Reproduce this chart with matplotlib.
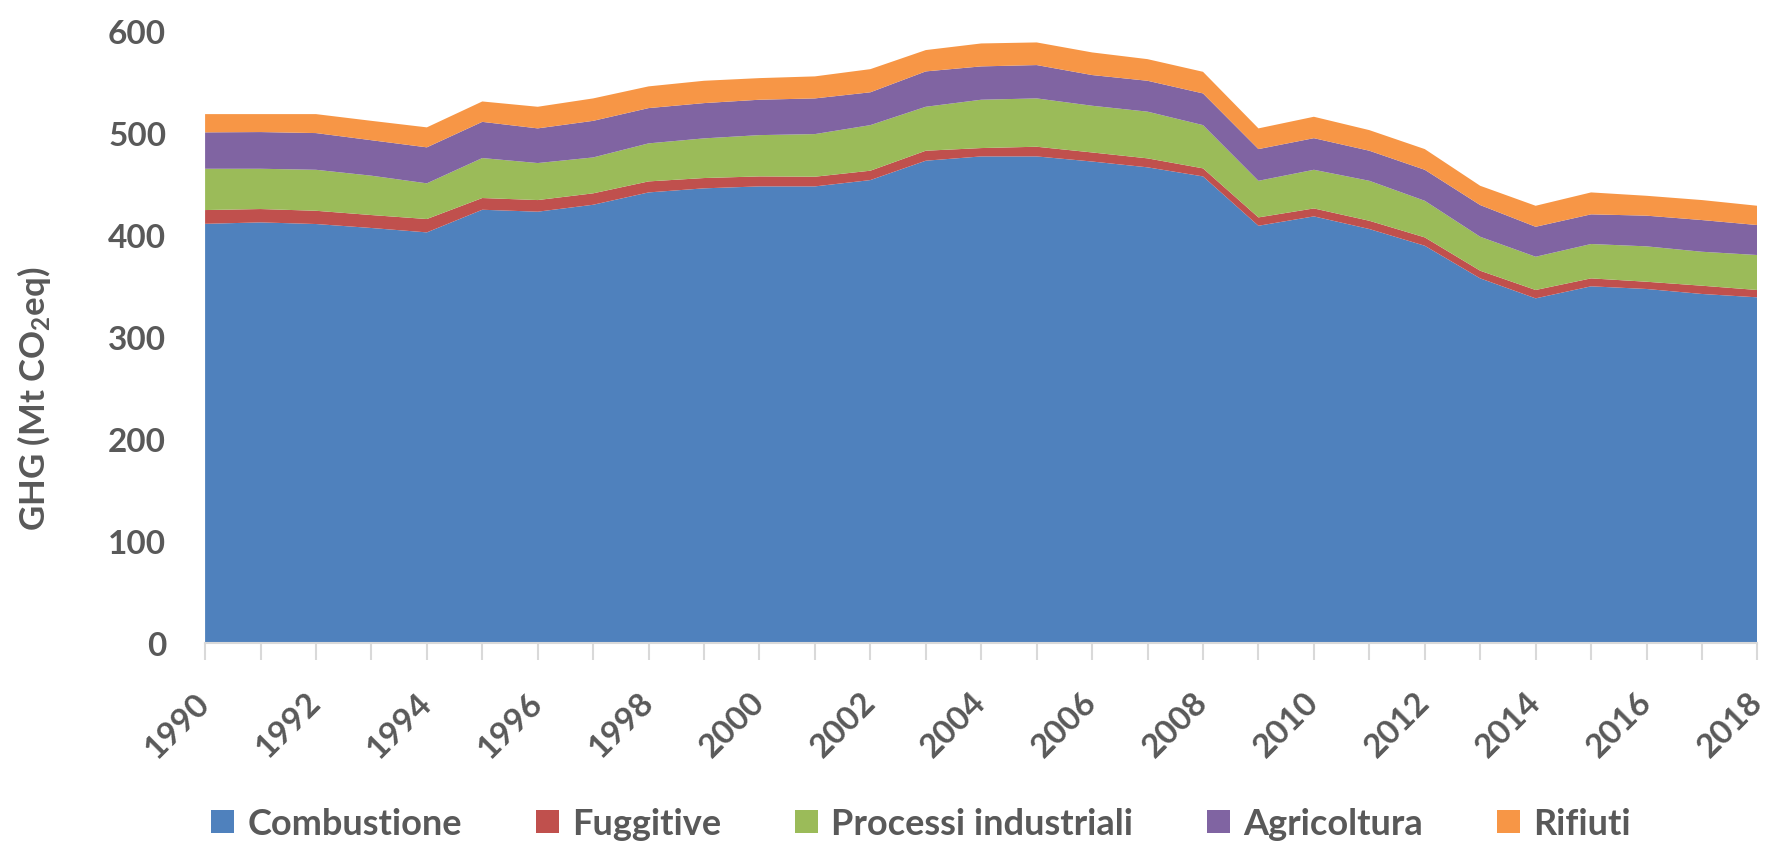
"""Emissioni GHG per settore, 1990-2018 (grafico ad area impilata)"""
import numpy as np
import matplotlib
matplotlib.use('Agg')
import matplotlib.pyplot as plt

years = list(range(1990, 2019))

combustione = [411.0, 412.4, 410.8, 406.9, 402.6, 424.8, 422.9, 429.7, 441.8, 445.8,
               447.7, 447.7, 453.9, 472.9, 477.1, 477.1, 472.1, 466.4, 457.5, 409.1,
               418.3, 405.9, 389.5, 357.5, 337.9, 349.7, 347.1, 342.2, 338.9]
fuggitive = [13.5, 13.1, 13.0, 12.7, 13.1, 11.5, 11.4, 11.2, 10.8, 10.1,
             9.8, 9.5, 9.2, 9.8, 8.2, 9.5, 8.9, 8.8, 7.9, 8.2,
             7.8, 8.1, 8.2, 7.5, 8.2, 7.8, 7.1, 8.1, 7.2]
processi = [40.5, 39.5, 40.2, 38.6, 35.0, 39.2, 36.3, 35.2, 37.3, 38.9,
            40.5, 41.8, 44.7, 43.1, 47.4, 47.4, 45.8, 45.8, 42.4, 35.9,
            37.9, 39.2, 35.9, 33.3, 32.6, 33.7, 34.7, 33.3, 34.3]
agricoltura = [35.7, 36.0, 36.0, 34.8, 35.3, 35.5, 34.0, 35.9, 34.6, 34.6,
               34.7, 35.0, 32.2, 34.7, 32.7, 32.7, 30.1, 30.3, 31.1, 31.1,
               31.0, 29.5, 30.4, 31.1, 29.4, 29.1, 30.1, 31.1, 29.4]
rifiuti = [17.9, 17.6, 18.6, 19.0, 19.6, 20.0, 21.2, 22.0, 21.3, 21.9,
           21.2, 21.6, 22.7, 20.9, 22.5, 22.2, 22.2, 21.2, 21.2, 20.3,
           21.0, 20.2, 20.3, 18.9, 20.6, 21.5, 19.5, 19.6, 18.9]

labels = ['Combustione', 'Fuggitive', 'Processi industriali', 'Agricoltura', 'Rifiuti']
colors = ['#4F81BD', '#C0504D', '#9BBB59', '#8064A2', '#F79646']
text_grey = '#595959'

plt.rcParams['font.family'] = ['Lato', 'DejaVu Sans']
plt.rcParams['font.weight'] = 'bold'


def main():
    fig = plt.figure(figsize=(17.68, 8.45), dpi=100)
    ax = fig.add_axes([0.116, 0.238, 0.878, 0.724])

    ax.stackplot(years, combustione, fuggitive, processi, agricoltura, rifiuti,
                 colors=colors, labels=labels, linewidth=0)

    ax.set_xlim(1990, 2018)
    ax.set_ylim(0, 600)

    # y axis: labels only, no line and no tick marks
    ax.set_yticks(np.arange(0, 601, 100))
    ax.tick_params(axis='y', length=0, pad=28, labelsize=24, labelcolor=text_grey)

    # x axis: a tick every year, a label every two years
    ax.set_xticks(years, minor=True)
    ax.set_xticks(years[::2])
    ax.set_xticklabels([str(y) for y in years[::2]], rotation=45,
                       ha='right', va='center', rotation_mode='anchor')
    ax.tick_params(axis='x', which='both', length=12, width=1.5, color='#D9D9D9',
                   direction='out')
    ax.tick_params(axis='x', which='major', pad=27, labelsize=24, labelcolor=text_grey)

    for side in ['left', 'right', 'top']:
        ax.spines[side].set_visible(False)
    ax.spines['bottom'].set_color('#D9D9D9')
    ax.spines['bottom'].set_linewidth(1.5)

    ax.set_ylabel(r'GHG (Mt CO$\mathregular{_2}$eq)', fontsize=25, fontweight='bold',
                  color=text_grey)
    ax.yaxis.set_label_coords(-0.098, 0.40)

    fig.legend(loc='center', bbox_to_anchor=(0.521, 0.024), ncol=5, frameon=False,
               fontsize=26, labelcolor=text_grey, handlelength=0.64, handleheight=0.64,
               handletextpad=0.36, columnspacing=2.05)

    fig.savefig('out.png', dpi=100)


if __name__ == "__main__":
    main()
